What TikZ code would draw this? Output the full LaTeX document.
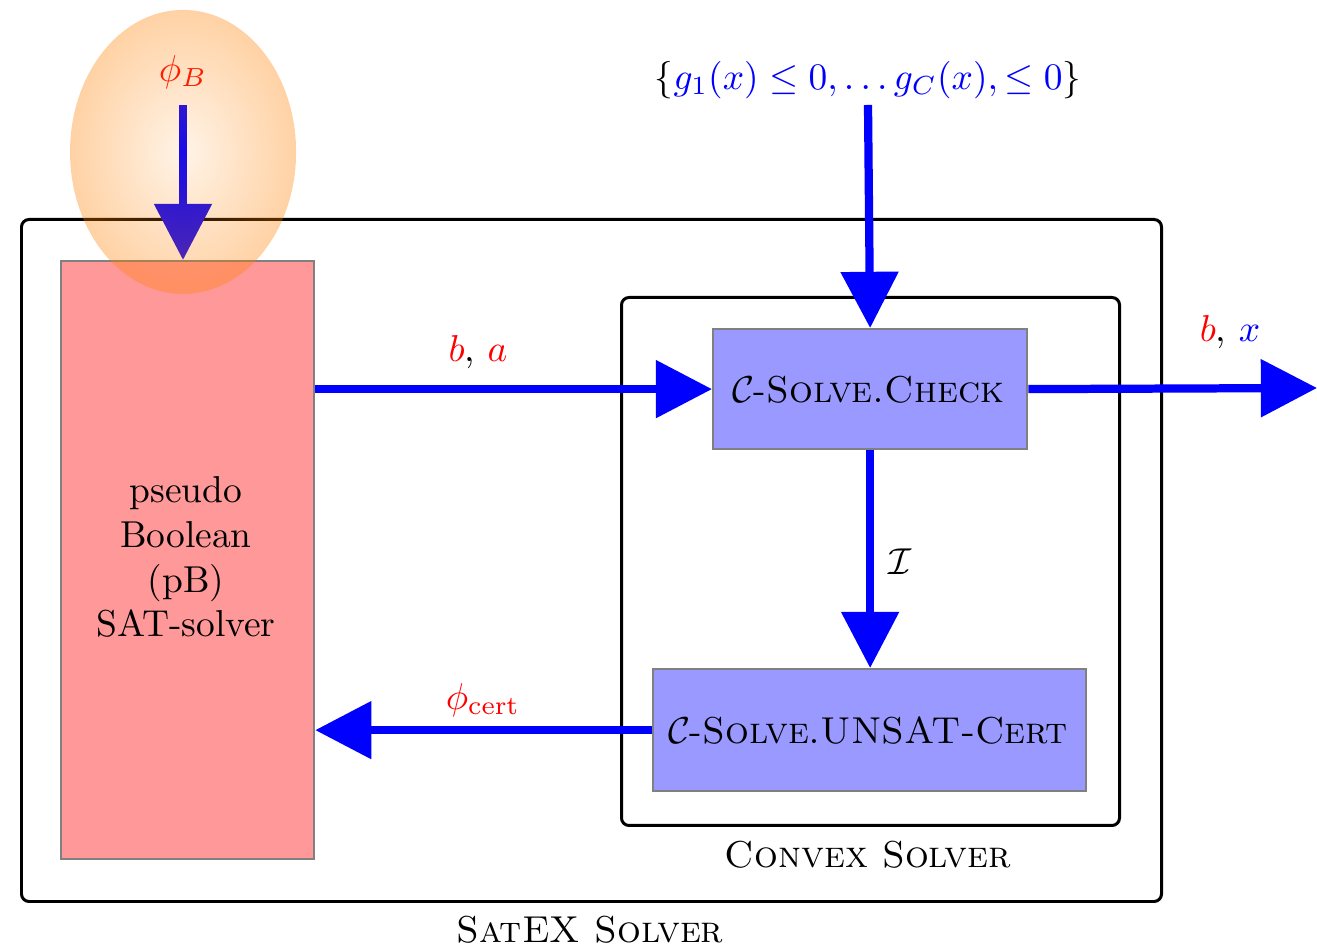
\documentclass[tikz,border=0pt]{standalone}
\usetikzlibrary{arrows.meta,fadings,positioning}
\pgfdeclareradialshading{ellshade}{\pgfpoint{0bp}{0bp}}{color(0bp)=(black!85); color(50bp)=(white); color(72bp)=(white)}
\pgfdeclarefading{ellfade}{\pgfuseshading{ellshade}}
\begin{document}
\begin{tikzpicture}[x=0.267pt,y=-0.267pt,
  flow/.style={draw=blue, line width=2.2pt, -{Triangle[length=15pt,width=15pt]}},
  frame/.style={draw=black, line width=0.8pt, rounded corners=2pt},
  redbox/.style={draw=gray, fill=red!40, line width=0.6pt},
  bluebox/.style={draw=gray, fill=blue!40, line width=0.6pt, inner sep=0pt},
  lbl/.style={inner sep=1pt}]
\useasboundingbox (0,0) rectangle (1317,949);
% outer frame
\node[frame, minimum width=1140*0.267pt, minimum height=682*0.267pt, anchor=north west, inner sep=0pt] (satex) at (20,218) {};
\node[lbl] (satexlbl) at (590,930) {\textsc{SatEX Solver}};
% convex solver frame
\node[frame, minimum width=498*0.267pt, minimum height=528*0.267pt, anchor=north west, inner sep=0pt] (convex) at (620,296) {};
\node[lbl] (convexlbl) at (868,855) {\textsc{Convex Solver}};
% pB solver
\node[redbox, minimum width=253*0.267pt, minimum height=598*0.267pt, anchor=north west, inner sep=0pt] (pb) at (60,260) {};
\node[align=center] (pbtext) at (186,557) {pseudo\\Boolean\\(pB)\\SAT-solver};
% check and unsat boxes
\node[bluebox, minimum width=314*0.267pt, minimum height=120*0.267pt, anchor=north west] (check) at (712,328) {};
\node (checktext) at (868,390) {$\mathcal{C}$-\textsc{Solve.Check}};
\node[bluebox, minimum width=433*0.267pt, minimum height=122*0.267pt, anchor=north west] (unsat) at (652,668) {};
\node (unsattext) at (868,731) {$\mathcal{C}$-\textsc{Solve.UNSAT-Cert}};
% inputs
\node[lbl] (phib) at (183,72) {$\textcolor{red}{\phi_B}$};
\coordinate (phibstart) at (183,105);
\draw[flow] (phibstart) -- (pb.north -| phibstart);
\node[lbl] (cons) at (868,80) {$\{\textcolor{blue}{g_1(x)\le 0,\dots g_C(x),\le 0}\}$};
\coordinate (consstart) at (868,105);
\draw[flow] (consstart) -- (check.north);
% main flow
\draw[flow] (pb.east |- check.west) -- (check.west);
\node[lbl] (ba) at (478,352) {$\textcolor{red}{b}$, $\textcolor{red}{a}$};
\coordinate (out) at (1317,388);
\draw[flow] (check.east) -- (out);
\node[lbl] (bx) at (1230,332) {$\textcolor{red}{b}$, $\textcolor{blue}{x}$};
\draw[flow] (check.south) -- (unsat.north -| check.south);
\node[lbl] (ilbl) at (900,562) {$\mathcal{I}$};
\draw[flow] (unsat.west) -- (pb.east |- unsat.west);
\node[lbl] (cert) at (483,700) {$\textcolor{red}{\phi_{\mathrm{cert}}}$};
% highlight ellipse
\fill[orange, path fading=ellfade, fill opacity=0.62] (183,152) ellipse [x radius=113, y radius=142];
\end{tikzpicture}
\end{document}
